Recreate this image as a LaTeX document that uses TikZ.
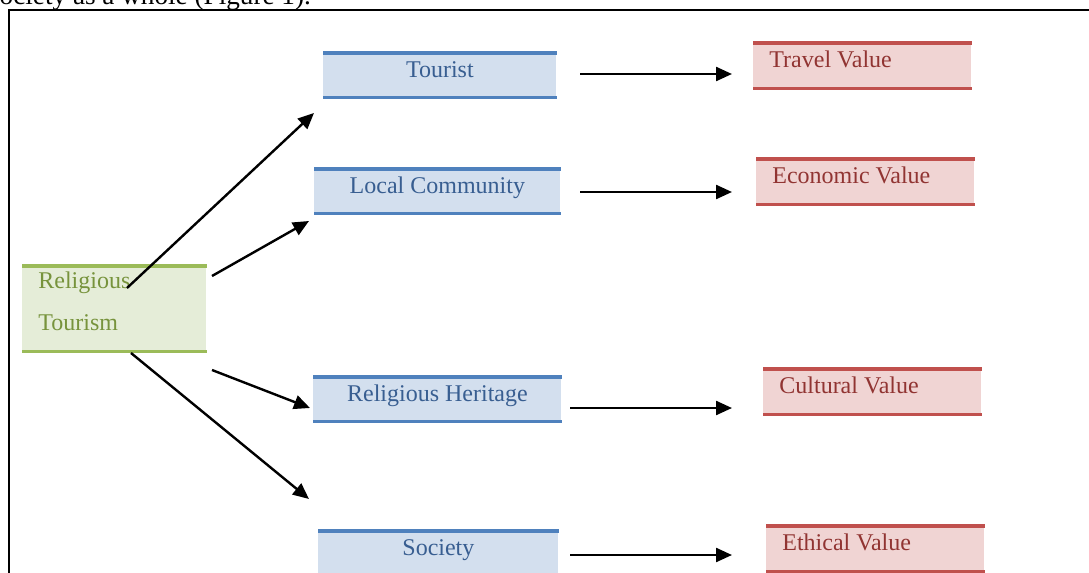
\documentclass[tikz,border=0pt]{standalone}
\usepackage{fontspec}
\setmainfont{Liberation Serif}
\usetikzlibrary{arrows.meta}

\definecolor{bluefill}{RGB}{211,223,238}
\definecolor{blueline}{RGB}{79,129,189}
\definecolor{bluetext}{RGB}{56,94,145}
\definecolor{redfill}{RGB}{240,212,211}
\definecolor{redline}{RGB}{192,80,77}
\definecolor{redtext}{RGB}{145,52,50}
\definecolor{greenfill}{RGB}{229,237,216}
\definecolor{greenline}{RGB}{155,187,89}
\definecolor{greentext}{RGB}{119,147,60}

\begin{document}
\begin{tikzpicture}[x=0.5pt, y=-0.5pt,
        font=\fontsize{12}{21}\selectfont,
        arr/.style={-{Triangle[length=8pt,width=7pt]}, line width=1.2pt},
        bluebox/.style={fill=bluefill, text=bluetext, anchor=north west,
            inner xsep=0pt, inner ysep=0pt, text height=12pt, text depth=10pt},
        redbox/.style={fill=redfill, text=redtext, anchor=north west,
            inner xsep=8pt, inner ysep=0pt, text width=93pt, align=flush left,
            text height=12pt, text depth=10.5pt},
        greenbox/.style={fill=greenfill, text=greentext, anchor=north west,
            inner xsep=8pt, inner ysep=0pt, text width=76pt, align=flush left,
            text height=11pt, text depth=31.5pt}
    ]
        \useasboundingbox (0,0) rectangle (1089,573);
        \clip (0,0) rectangle (1089,573);

        \node[anchor=base east, font=\fontsize{13.6}{16}\selectfont] (caption) at (318,4) {society as a whole (Figure 1).};
        \draw[line width=1.25pt] (9,10) rectangle (1110,600);

        % left box
        \node[greenbox] (religious) at (22,266) {Religious\\Tourism};

        % middle boxes
        \node[bluebox, minimum width=116.5pt] (tourist) at (323,53) {Tourist};
        \node[bluebox, minimum width=123pt] (community) at (314,169) {Local Community};
        \node[bluebox, minimum width=124pt] (heritage) at (313,377) {Religious Heritage};
        \node[bluebox, minimum width=120pt] (society) at (318,531) {Society};

        % value boxes
        \node[redbox] (travel) at (753,43) {Travel Value};
        \node[redbox] (economic) at (756,159) {Economic Value};
        \node[redbox] (cultural) at (763,369) {Cultural Value};
        \node[redbox] (ethical) at (766,526) {Ethical Value};

        \draw[line width=1.6pt, greenline] (religious.north west) -- (religious.north east)
            (religious.south west) -- (religious.south east);
        \foreach \n in {tourist, community, heritage, society} {
            \draw[line width=1.6pt, blueline] (\n.north west) -- (\n.north east)
                (\n.south west) -- (\n.south east);
        }
        \foreach \n in {travel, economic, cultural, ethical} {
            \draw[line width=1.6pt, redline] (\n.north west) -- (\n.north east)
                (\n.south west) -- (\n.south east);
        }

        % fan of arrows
        \coordinate (fan1) at (127,288);
        \coordinate (fan2) at (212,276);
        \coordinate (fan3) at (212,370);
        \coordinate (fan4) at (131,353);
        \coordinate (totourist) at (314,113);
        \coordinate (tocommunity) at (309,221);
        \coordinate (toheritage) at (310,408);
        \coordinate (tosociety) at (309,499);
        \draw[arr] (fan1) -- (totourist);
        \draw[arr] (fan2) -- (tocommunity);
        \draw[arr] (fan3) -- (toheritage);
        \draw[arr] (fan4) -- (tosociety);

        % value arrows
        \coordinate (from1) at (580,74);
        \coordinate (from2) at (580,192);
        \coordinate (from3) at (570,408);
        \coordinate (from4) at (570,555);
        \coordinate (to1) at (732,74);
        \coordinate (to2) at (732,192);
        \coordinate (to3) at (732,408);
        \coordinate (to4) at (732,555);
        \draw[arr] (from1) -- (to1);
        \draw[arr] (from2) -- (to2);
        \draw[arr] (from3) -- (to3);
        \draw[arr] (from4) -- (to4);
    \end{tikzpicture}
\end{document}
